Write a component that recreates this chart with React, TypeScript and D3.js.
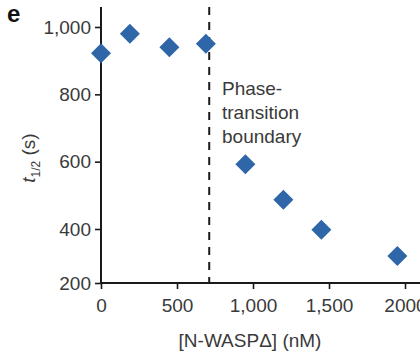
import React, { useEffect, useRef } from 'react';
import * as d3 from 'd3';

const concentrations = [0, 190, 450, 690, 950, 1200, 1450, 1950];
const halfTimes = [922, 980, 940, 950, 592, 487, 397, 300];
const xTicks = [0, 500, 1000, 1500, 2000];
const xTickLabels = ['0', '500', '1,000', '1,500', '2000'];
const yTicks = [200, 400, 600, 800, 1000];
const yTickLabels = ['200', '400', '600', '800', '1,000'];
const boundary = 712;
const boundaryLabel = ['Phase-', 'transition', 'boundary'];

const App = () => {
  const ref = useRef<SVGSVGElement>(null);

  useEffect(() => {
    const svg = d3.select(ref.current);
    svg.selectAll('*').remove();
    const font = '"Liberation Sans", Arial, sans-serif';
    const ink = '#3a3a3a';

    const x = d3.scaleLinear().domain([0, 2200]).range([101, 435.4]);
    // the original axis is squeezed below 400
    const y = d3.scaleLinear().domain([200, 400, 1000, 1060]).range([283, 229, 27, 7]);

    const xAxis = svg.append('g').attr('transform', 'translate(0,283)')
      .call(d3.axisBottom(x).tickValues(xTicks).tickSize(6).tickPadding(10)
        .tickFormat((d, i) => xTickLabels[i]));
    const yAxis = svg.append('g').attr('transform', 'translate(101,0)')
      .call(d3.axisLeft(y).tickValues(yTicks).tickSize(6).tickPadding(4)
        .tickFormat((d, i) => yTickLabels[i]));

    [xAxis, yAxis].forEach(g => {
      g.select('.domain').attr('stroke', '#1a1a1a').attr('stroke-width', 2);
      g.selectAll('.tick line').attr('stroke', '#1a1a1a').attr('stroke-width', 1.6);
      g.selectAll('.tick text').attr('fill', ink).attr('font-family', font).attr('font-size', 19);
    });
    yAxis.select('.domain').attr('d', `M0,${y(1060)}V${y(200)}`);
    xAxis.select('.domain').attr('d', `M${x(0)},0H${x(2200)}`);

    svg.append('line')
      .attr('x1', x(boundary)).attr('x2', x(boundary))
      .attr('y1', y(1060)).attr('y2', 283)
      .attr('stroke', '#1a1a1a').attr('stroke-width', 2)
      .attr('stroke-dasharray', '8,7');

    const lbl = svg.append('text').attr('x', 222).attr('y', 95)
      .attr('font-family', font).attr('font-size', 19).attr('fill', ink);
    boundaryLabel.forEach((t, i) => {
      lbl.append('tspan').attr('x', 222).attr('dy', i === 0 ? 0 : 24).text(t);
    });

    const diamond = d3.symbol().type(d3.symbolSquare).size(200);
    svg.append('g').selectAll('path')
      .data(concentrations.map((c, i) => ({ c, t: halfTimes[i] })))
      .join('path')
      .attr('d', diamond)
      .attr('transform', d => `translate(${x(d.c)},${y(d.t)}) rotate(45)`)
      .attr('fill', '#2f66a8');

    svg.append('text').attr('x', 250).attr('y', 347)
      .attr('text-anchor', 'middle').attr('font-family', font)
      .attr('font-size', 19).attr('fill', ink)
      .text('[N-WASPΔ] (nM)');

    const yl = svg.append('text')
      .attr('transform', 'translate(35,158) rotate(-90)')
      .attr('text-anchor', 'middle').attr('font-family', font)
      .attr('font-size', 19).attr('fill', ink);
    yl.append('tspan').attr('font-style', 'italic').text('t');
    yl.append('tspan').attr('font-size', 12).attr('dy', 5).text('1/2');
    yl.append('tspan').attr('dy', -5).text(' (s)');

    svg.append('text').attr('x', 7).attr('y', 22)
      .attr('font-family', font).attr('font-weight', 'bold')
      .attr('font-size', 24).attr('fill', '#111').text('e');
  }, []);

  return (
    <svg ref={ref} width={420} height={352}
      style={{ position: 'absolute', left: 0, top: 0, background: '#fff' }} />
  );
};

export default App;
